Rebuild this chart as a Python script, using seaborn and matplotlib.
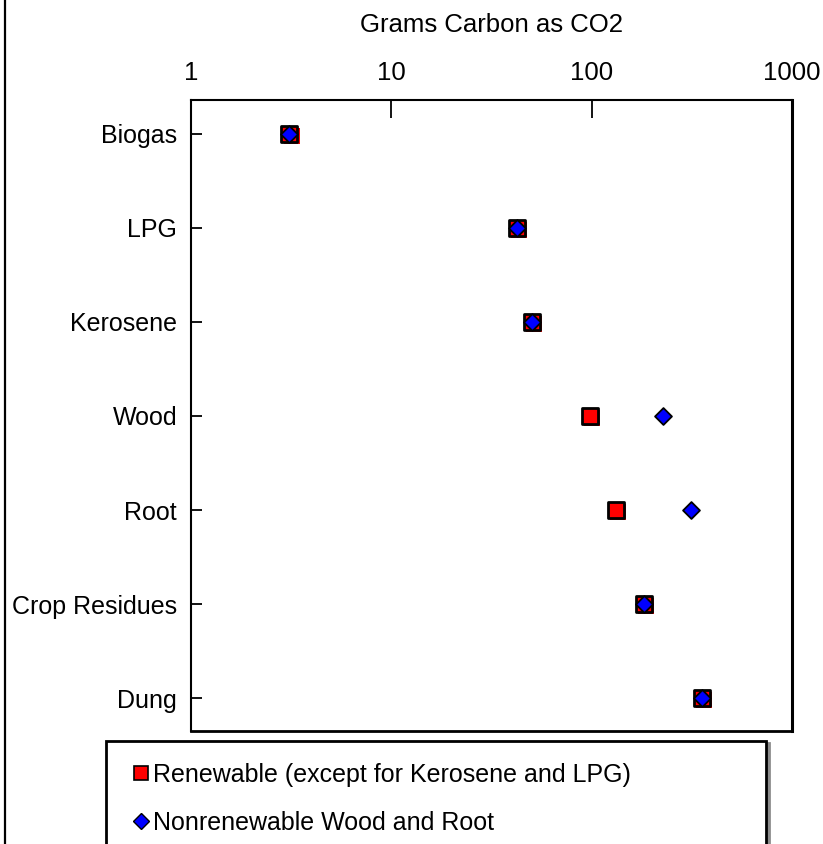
import matplotlib
matplotlib.use("Agg")
import matplotlib.pyplot as plt
import matplotlib.patheffects as pe
from matplotlib.lines import Line2D
import numpy as np
import pandas as pd
import seaborn as sns

# ---- data ----
fuels = ["Biogas", "LPG", "Kerosene", "Wood", "Root", "Crop Residues", "Dung"]
renewable = [3.1, 42.5, 50.5, 98, 132, 183, 356]
nonrenewable = [3.1, 42.5, 50.5, 227, 313, 183, 356]
x_ticks = [1, 10, 100, 1000]
x_tick_labels = ["1", "10", "100", "1000"]
series_labels = ["Renewable (except for Kerosene and LPG)", "Nonrenewable Wood and Root"]
x_title = "Grams Carbon as CO2"

sns.set_theme(style="white")
plt.rcParams["font.family"] = ["Liberation Sans", "DejaVu Sans"]
plt.rcParams["text.color"] = "black"
plt.rcParams["axes.labelcolor"] = "black"
plt.rcParams["xtick.color"] = "black"
plt.rcParams["ytick.color"] = "black"

W, H = 823, 844
fig = plt.figure(figsize=(W / 100, H / 100), dpi=100)
ax = fig.add_axes([191 / W, 1 - 731 / H, 601 / W, 631 / H])

df_r = pd.DataFrame({"fuel": fuels, "value": renewable})
df_n = pd.DataFrame({"fuel": fuels, "value": nonrenewable})

sq = sns.scatterplot(data=df_r, x="value", y="fuel", marker="s", s=11.5 ** 2,
                     color="#ff0000", edgecolor="black", linewidth=2.0, ax=ax, zorder=3)
sq.collections[0].set_path_effects([
    pe.SimplePatchShadow(offset=(1.6, -1.6), shadow_rgbFace="#ff0000", alpha=1.0),
    pe.Normal()])
sns.scatterplot(data=df_n, x="value", y="fuel", marker="D", s=8.6 ** 2,
                color="#0000ff", edgecolor="black", linewidth=1.3, ax=ax, zorder=4)

ax.set_xscale("log")
ax.set_xlim(1, 1000)
ax.set_ylim(6.35, -0.36)
ax.set_xticks(x_ticks)
ax.set_xticklabels(x_tick_labels)
ax.xaxis.set_minor_locator(matplotlib.ticker.NullLocator())
ax.set_yticks(range(len(fuels)))
ax.set_yticklabels(fuels)
ax.xaxis.tick_top()
ax.xaxis.set_label_position("top")
ax.set_xlabel(x_title, fontsize=18.5, labelpad=21, color="black")
ax.set_ylabel("")
ax.tick_params(axis="x", which="major", direction="in", length=13, width=1.3,
               color="black", labelcolor="black", labelsize=18.5, pad=11,
               top=True, bottom=False)
ax.tick_params(axis="y", which="major", direction="in", length=8, width=1.3,
               color="black", labelcolor="black", labelsize=18, pad=10,
               left=True, right=False)
for side, sp in ax.spines.items():
    sp.set_visible(True)
    sp.set_color("black")
    sp.set_linewidth(1.5)
ax.spines["right"].set_linewidth(2.2)
ax.spines["bottom"].set_linewidth(2.0)
ax.grid(False)
ax.set_facecolor("white")

# legend
handles = [
    Line2D([], [], marker="s", linestyle="none", markersize=10.5, markerfacecolor="#ff0000",
           markeredgecolor="black", markeredgewidth=1.2),
    Line2D([], [], marker="D", linestyle="none", markersize=8.5, markerfacecolor="#0000ff",
           markeredgecolor="black", markeredgewidth=1.0),
]
leg = fig.legend(handles, series_labels, loc="upper left",
                 bbox_to_anchor=(106 / W, 1 - 749 / H, (766 - 106) / W, 0.01),
                 mode="expand", fontsize=18, frameon=True, fancybox=False,
                 handlelength=1.0, handletextpad=0.0, labelspacing=0.95,
                 borderpad=0.9, borderaxespad=0,
                 shadow={"color": "0.55", "alpha": 1.0})
for t in leg.get_texts():
    t.set_color("black")
leg.get_frame().set_edgecolor("black")
leg.get_frame().set_linewidth(2.0)

# figure left border
fig.add_artist(Line2D([4.5 / W, 4.5 / W], [0, 1], transform=fig.transFigure,
                      color="black", linewidth=1.6))

fig.savefig("out.png", dpi=100)
